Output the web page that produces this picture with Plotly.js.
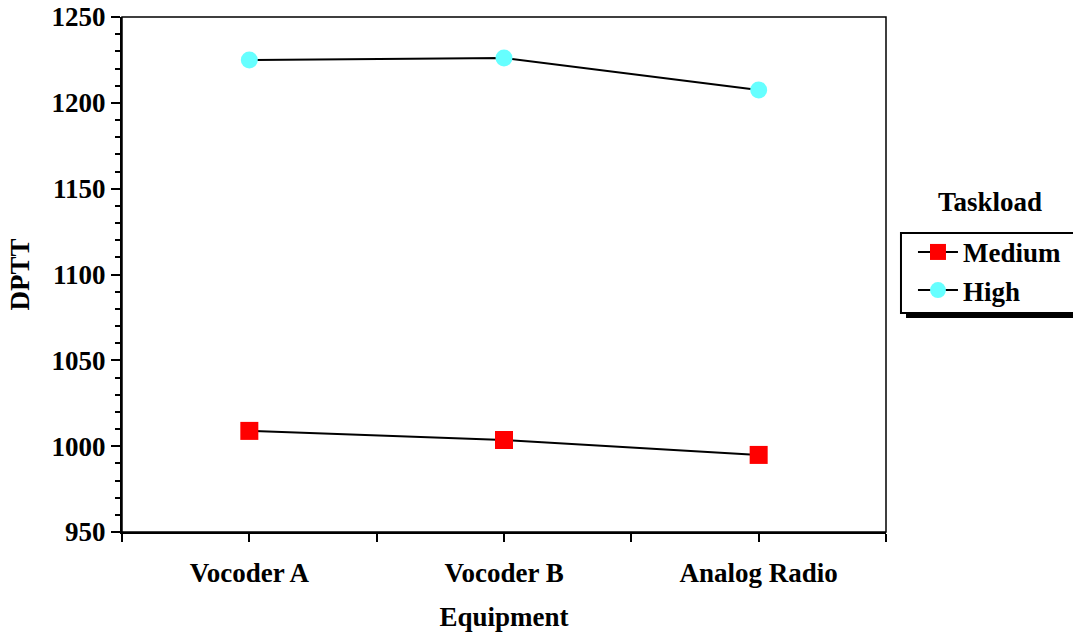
<!DOCTYPE html>
<html>
<head>
<meta charset="utf-8">
<script src="https://cdn.plot.ly/plotly-3.0.1.min.js"></script>
<style>html,body{margin:0;padding:0;background:#fff;}#chart{width:1073px;height:632px;}</style>
</head>
<body>
<div id="chart"></div>
<script>
const categories = ["Vocoder A", "Vocoder B", "Analog Radio"];
const mediumValues = [1008.9, 1003.6, 994.9];
const highValues = [1225.0, 1226.1, 1207.5];
const seriesNames = ["Medium", "High"];
const legendTitle = "Taskload";
const xTitle = "Equipment";
const yTitle = "DPTT";

const idx = categories.map((c, i) => i);
const tickvals = [];
const ticktext = [];
for (let v = -0.5; v <= categories.length - 0.5 + 1e-9; v += 0.5) {
  tickvals.push(v);
  const isCat = Math.abs(v - Math.round(v)) < 1e-9;
  ticktext.push(isCat ? categories[Math.round(v)] : "");
}

const FS = 27;
const fam = "Liberation Serif, Times New Roman, serif";
const bold = {family: fam, size: FS, color: "#000", weight: "bold"};

const traces = [
  {x: idx, y: mediumValues, name: seriesNames[0], mode: "lines+markers",
   line: {color: "#000", width: 2},
   marker: {symbol: "square", size: 18, color: "#ff0000"}},
  {x: idx, y: highValues, name: seriesNames[1], mode: "lines+markers",
   line: {color: "#000", width: 2},
   marker: {symbol: "circle", size: 17, color: "#66ffff"}}
];

const layout = {
  width: 1073, height: 632,
  margin: {l: 122, r: 187, t: 17, b: 100, autoexpand: false},
  paper_bgcolor: "#fff", plot_bgcolor: "#fff",
  font: bold,
  showlegend: true,
  legend: {x: 1.0353, xanchor: "left", y: 0.5905, yanchor: "top",
           bgcolor: "rgba(0,0,0,0)", borderwidth: 0,
           font: bold, tracegroupgap: 0, itemwidth: 40},
  xaxis: {range: [-0.5, categories.length - 0.5], tickmode: "array", tickvals: tickvals, ticktext: ticktext,
          ticks: "outside", ticklen: 8, tickwidth: 2, tickcolor: "#000",
          showline: true, linewidth: 2, linecolor: "#000", showgrid: false, zeroline: false,
          ticklabelstandoff: 8,
          tickfont: bold,
          title: {text: xTitle, standoff: 20, font: bold}},
  yaxis: {range: [950, 1250], dtick: 50, tick0: 950,
          ticks: "outside", ticklen: 9, tickwidth: 2, tickcolor: "#000",
          minor: {dtick: 10, ticks: "outside", ticklen: 5, tickwidth: 2, tickcolor: "#000"},
          showline: true, linewidth: 2, linecolor: "#000", showgrid: false, zeroline: false,
          tickfont: bold,
          title: {text: yTitle, standoff: 14, font: bold}},
  shapes: [
    {type: "rect", xref: "paper", yref: "paper", x0: 0, x1: 1, y0: 0, y1: 1,
     line: {color: "#000", width: 1.5}, fillcolor: "rgba(0,0,0,0)"},
    {type: "rect", xref: "paper", yref: "paper", x0: 1.0262, x1: 1.3, y0: 0.4155, y1: 0.571,
     line: {width: 0}, fillcolor: "#000", layer: "below"},
    {type: "rect", xref: "paper", yref: "paper", x0: 1.0196, x1: 1.3, y0: 0.4252, y1: 0.5806,
     line: {color: "#000", width: 2}, fillcolor: "#fff", layer: "below"}
  ],
  annotations: [
    {text: legendTitle, xref: "paper", yref: "paper", x: 1.136, y: 0.641, showarrow: false,
     xanchor: "center", yanchor: "middle", font: bold}
  ]
};

Plotly.newPlot("chart", traces, layout, {displayModeBar: false, staticPlot: true});
</script>
</body>
</html>
